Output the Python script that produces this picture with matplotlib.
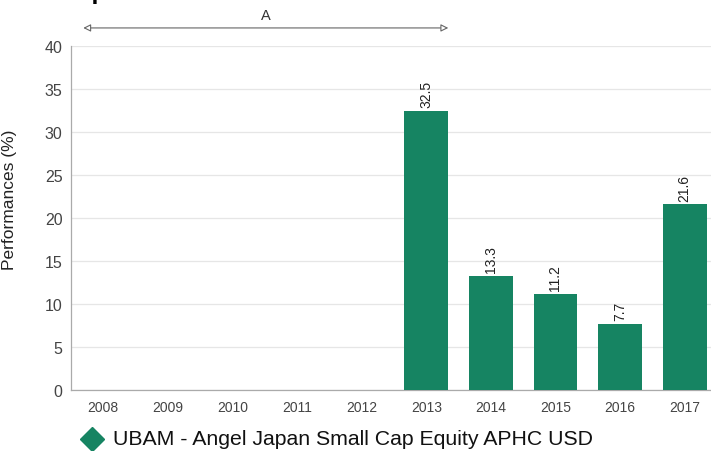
import numpy as np
import matplotlib.pyplot as plt

# data
years = ["2008", "2009", "2010", "2011", "2012", "2013", "2014", "2015", "2016", "2017"]
perf = [np.nan, np.nan, np.nan, np.nan, np.nan, 32.5, 13.3, 11.2, 7.7, 21.6]
fund_name = "UBAM - Angel Japan Small Cap Equity APHC USD"
period_label = "A"
period_start = -0.31
period_end = 5.34

green = "#168462"
grey_txt = "#444444"

plt.rcParams["font.family"] = ["Liberation Sans", "DejaVu Sans"]

fig = plt.figure(figsize=(7.11, 4.52), dpi=100)
ax = fig.add_axes([71 / 711, 61 / 452, 646 / 711, 344 / 452])

x = np.arange(len(years))
bars = ax.bar(x, perf, width=0.68, color=green, zorder=3)

for xi, v in zip(x, perf):
    if np.isnan(v):
        continue
    ax.text(xi, v + 0.4, f"{v:.1f}", rotation=90, ha="center", va="bottom",
            fontsize=10, color="#222222")

ax.set_xlim(-0.5, len(years) - 0.5)
ax.set_ylim(0, 40)
ax.set_yticks(np.arange(0, 41, 5))
ax.set_xticks(x)
ax.set_xticklabels(years)
ax.tick_params(axis="x", length=0, labelsize=10, labelcolor=grey_txt, pad=7)
ax.tick_params(axis="y", length=0, labelsize=11.5, labelcolor=grey_txt, pad=6)
ax.grid(axis="y", color="#e6e6e6", linewidth=0.9, zorder=0)
ax.set_ylabel("Performances (%)", fontsize=12.5, color="#222222")
ax.yaxis.set_label_coords(-0.084, 0.555)

for s in ["top", "right"]:
    ax.spines[s].set_visible(False)
for s in ["left", "bottom"]:
    ax.spines[s].set_color("#aaaaaa")
    ax.spines[s].set_linewidth(0.9)

# period arrow
ax.annotate("", xy=(period_start, 42.1), xytext=(period_end, 42.1),
            xycoords="data", annotation_clip=False,
            arrowprops=dict(arrowstyle="<|-|>", color="#666666", lw=0.8,
                            fc="white", mutation_scale=11, shrinkA=0, shrinkB=0))
ax.text((period_start + period_end) / 2, 42.75, period_label, ha="center",
        va="bottom", fontsize=10.5, color="#333333", clip_on=False)

# title, almost fully cut by the top border as in the reference
fig.text(0.0, 1.0 + 1 / 452, "Annual performance", fontsize=18, fontweight="bold",
         va="baseline", ha="left")

# legend
leg_y = 1 - 440 / 452
fig.add_artist(plt.Line2D([92 / 711], [leg_y], marker="D", markersize=12.5,
                          color=green, linestyle="none",
                          transform=fig.transFigure))
fig.text(113 / 711, leg_y, fund_name, fontsize=15.3, color="#111111",
         ha="left", va="center")

fig.savefig("out.png", dpi=100)
